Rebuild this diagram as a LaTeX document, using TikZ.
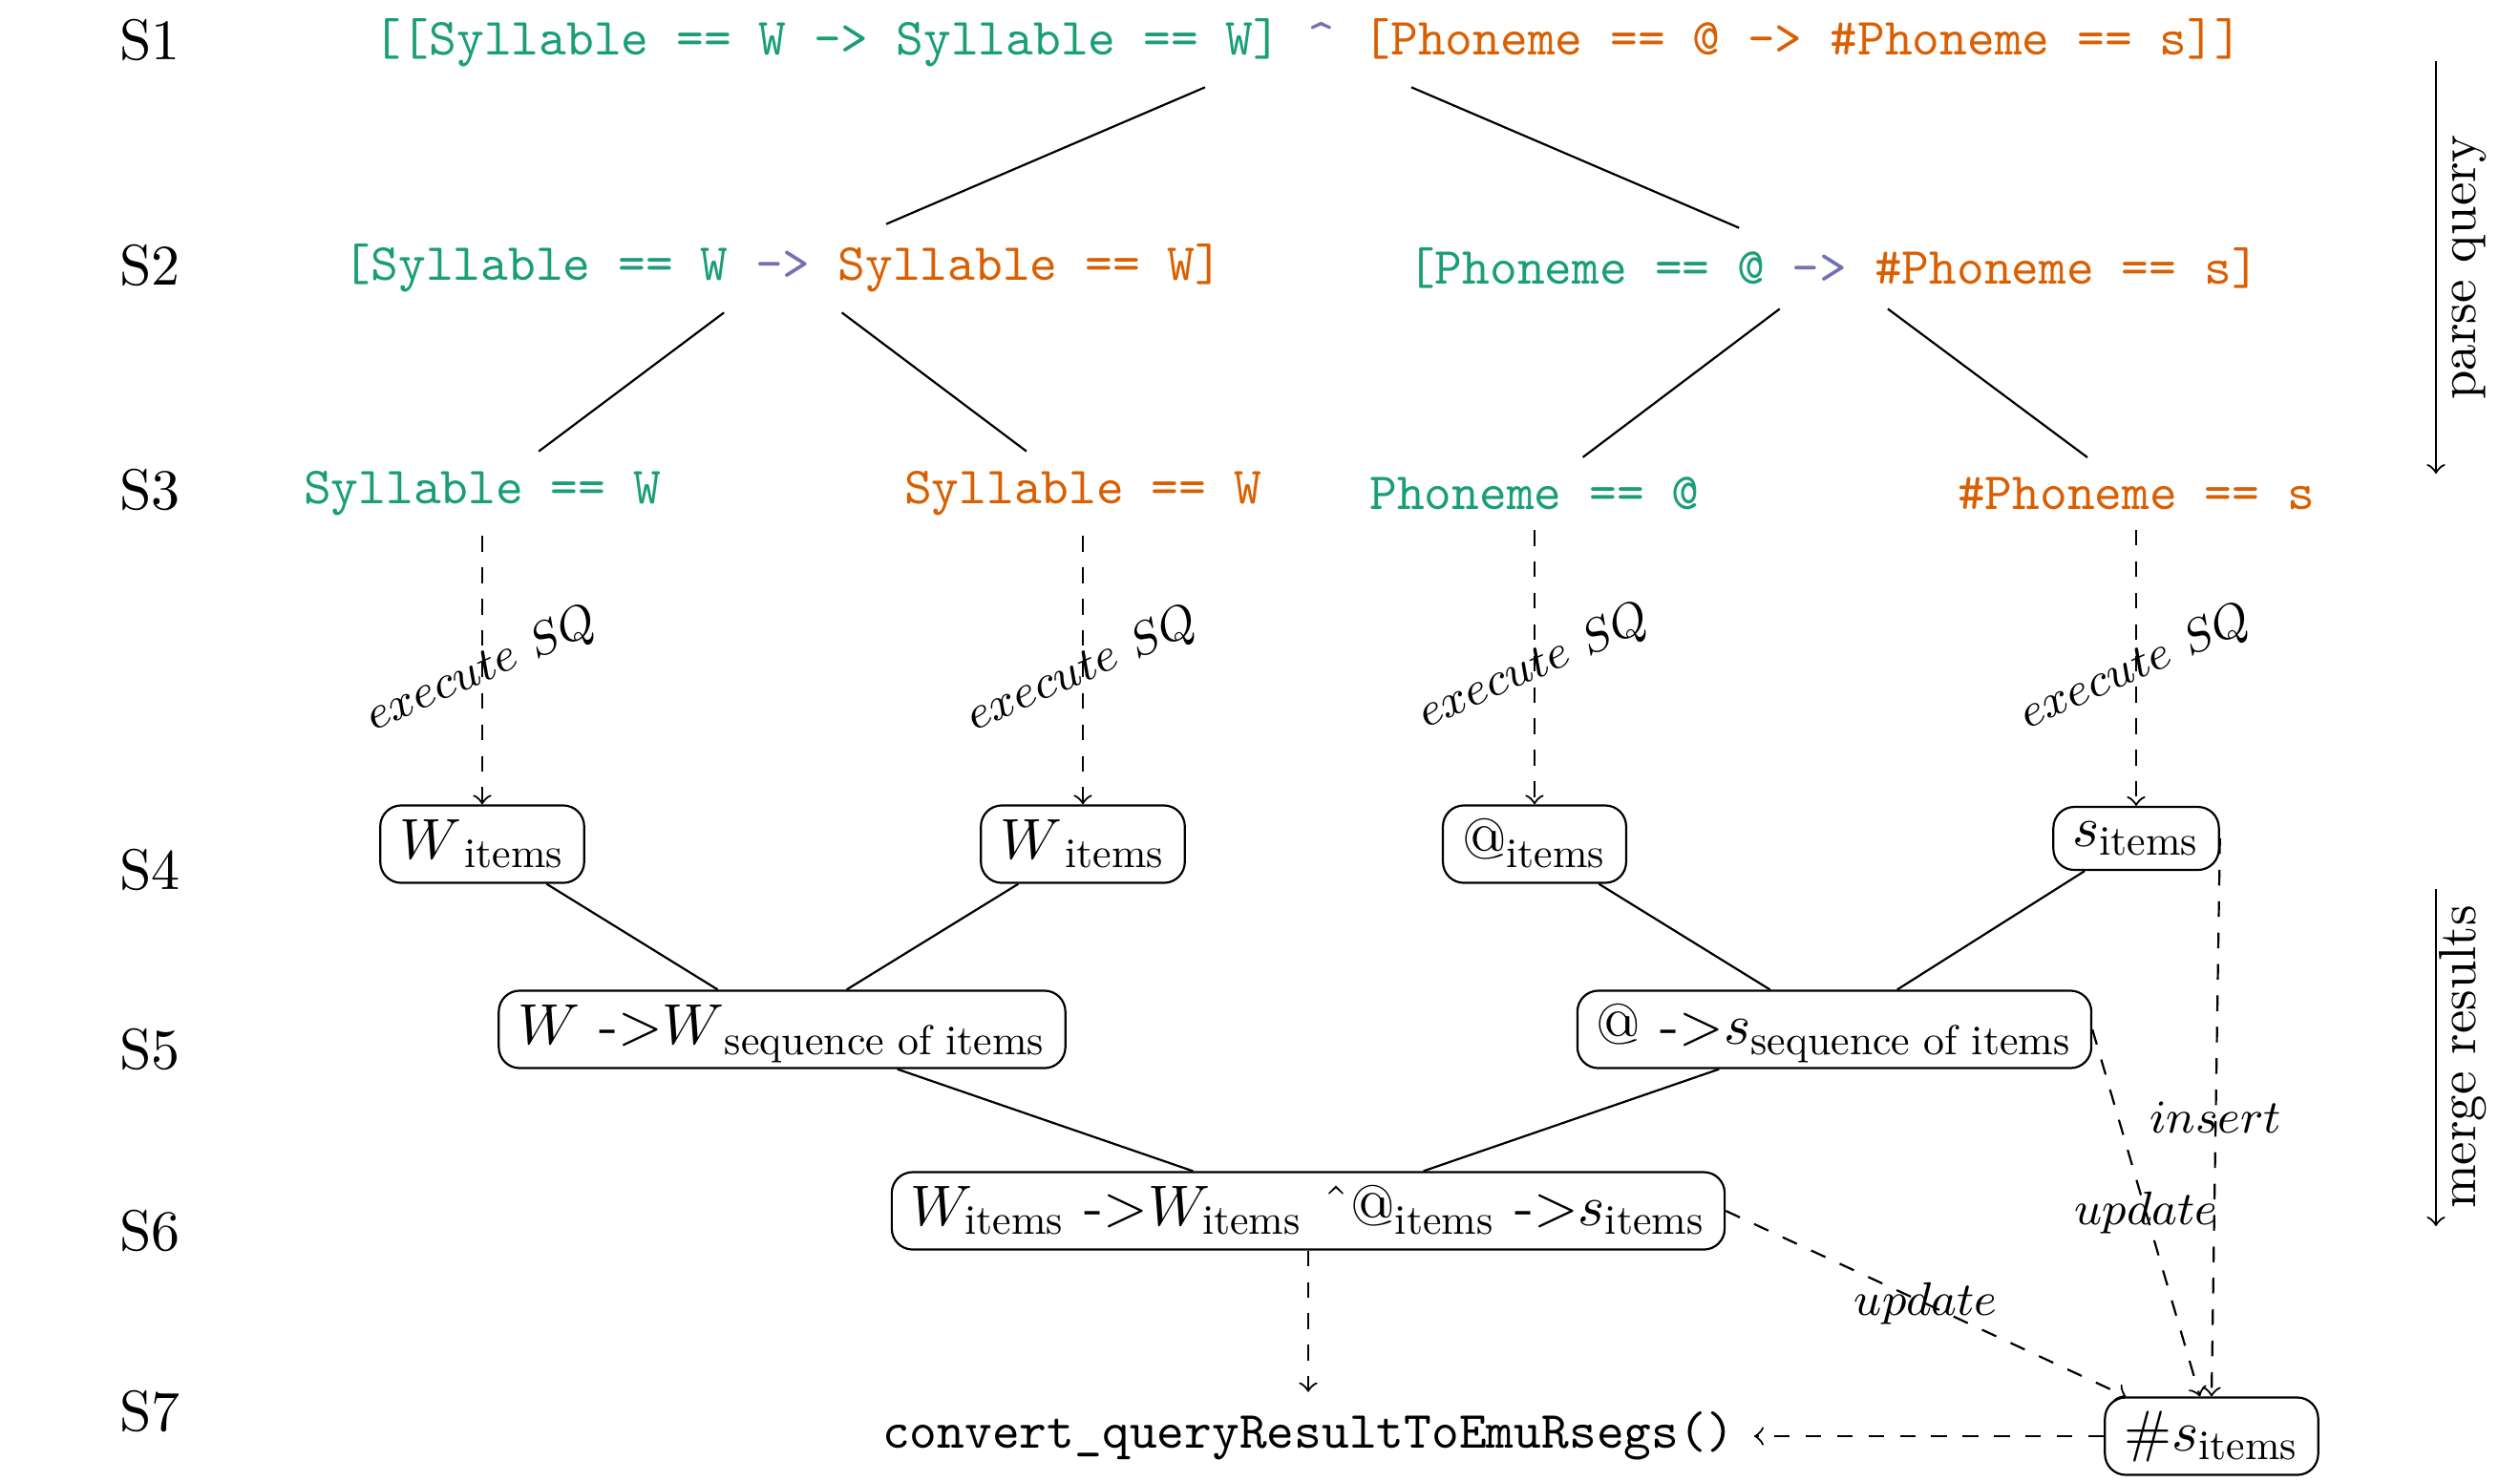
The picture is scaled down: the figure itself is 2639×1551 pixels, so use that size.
\documentclass[11pt,tikz,border=0pt]{standalone}
\usepackage{amsmath}
\usepackage{graphicx}
\definecolor{dkgreen}{HTML}{1B9E77}
\definecolor{dkorange}{HTML}{D95F02}
\definecolor{dkpurple}{HTML}{7570B3}
\newcommand{\subtxt}[1]{\mbox{\scalebox{0.7306}{#1}}}
\newcommand{\smallhat}{{\fontencoding{OT1}\selectfont\^{}}}
\begin{document}
\begin{tikzpicture}[x=0.06415mm, y=-0.06415mm,
  qtext/.style={font=\small\ttfamily},
  itembox/.style={draw, rounded corners=4pt, inner ysep=2.8pt},
  fixh/.style={text height=7.5pt, text depth=1.7pt},
  lvl/.style={font=\normalsize},
  smalllbl/.style={font=\fontsize{9.5}{11}\selectfont},
  sidelbl/.style={font=\small},
  dasharrow/.style={->, dashed},
]
\useasboundingbox (0,0) rectangle (2639,1551);

% level labels
\node[lvl] (lS1) at (157,42) {S1};
\node[lvl] (lS2) at (157,278) {S2};
\node[lvl] (lS3) at (157,513) {S3};
\node[lvl] (lS4) at (157,911) {S4};
\node[lvl] (lS5) at (157,1099) {S5};
\node[lvl] (lS6) at (157,1289) {S6};
\node[lvl] (lS7) at (157,1478) {S7};

% query tree
\node[qtext] (q1) at (1370,45) {\textcolor{dkgreen}{[[Syllable == W -> Syllable == W]} \textcolor{dkpurple}{\textasciicircum} \textcolor{dkorange}{[Phoneme == @ -> \#Phoneme == s]]}};
\node[qtext] (q2l) at (820,281) {\textcolor{dkgreen}{[Syllable == W} \textcolor{dkpurple}{->} \textcolor{dkorange}{Syllable == W]}};
\node[qtext] (q2r) at (1920,281) {\textcolor{dkgreen}{[Phoneme == @} \textcolor{dkpurple}{->} \textcolor{dkorange}{\#Phoneme == s]}};
\node[qtext, text=dkgreen] (q3a) at (505,517) {Syllable == W};
\node[qtext, text=dkorange] (q3b) at (1134,517) {Syllable == W};
\node[qtext, text=dkgreen] (q3c) at (1607,517) {Phoneme == @};
\node[qtext, text=dkorange] (q3d) at (2237,517) {\#Phoneme == s};

% result boxes
\node[itembox, fixh] (w1) at (505,884) {${W}\mkern1mu_{\subtxt{items}}$};
\node[itembox, fixh] (w2) at (1134,884) {${W}\mkern1mu_{\subtxt{items}}$};
\node[itembox, fixh] (a1) at (1607,884) {$@_{\subtxt{items}}$};
\node[itembox] (s1) at (2237,878) {$s_{\subtxt{items}}$};
\node[itembox, fixh] (ww) at (819,1078) {${W}$ -$>${$W$}$_{\subtxt{sequence of items}}$};
\node[itembox, fixh] (as) at (1921,1078) {$@$ -$>$$s_{\subtxt{sequence of items}}$};
\node[itembox, fixh] (all) at (1370,1268) {${W}_{\subtxt{items}}$ -$>$${W}_{\subtxt{items}}$ \smallhat$@_{\subtxt{items}}$ -$>$$s_{\subtxt{items}}$};
\node[itembox, fixh] (hs) at (2316,1504) {$\#s_{\subtxt{items}}$};
\node[font=\small] (conv) at (1370,1504) {\texttt{convert\_queryResultToEmuRsegs()}};

% parse tree edges
\draw (q1) -- (q2l);
\draw (q1) -- (q2r);
\draw (q2l) -- (q3a);
\draw (q2l) -- (q3b);
\draw (q2r) -- (q3c);
\draw (q2r) -- (q3d);

% execute SQ
\draw[dasharrow] (q3a) -- node[smalllbl, rotate=24] {$execute\ SQ$} (w1);
\draw[dasharrow] (q3b) -- node[smalllbl, rotate=24] {$execute\ SQ$} (w2);
\draw[dasharrow] (q3c) -- node[smalllbl, rotate=24] {$execute\ SQ$} (a1);
\draw[dasharrow] (q3d) -- node[smalllbl, rotate=24] {$execute\ SQ$} (s1);

% merge edges
\draw (w1) -- (ww);
\draw (w2) -- (ww);
\draw (a1) -- (as);
\draw (s1) -- (as);
\draw (ww) -- (all);
\draw (as) -- (all);

% result flow
\draw[dasharrow] (all) -- (conv);
\draw[dasharrow] (hs) -- (conv);
\draw[dasharrow] (all.east) -- node[smalllbl] {$update$} (hs);
\draw[dasharrow] (as.east) -- node[smalllbl] {$update$} (hs);
\draw[dasharrow] (s1.east) -- node[smalllbl] {$insert$} (hs.north);

% side arrows
\coordinate (pq1) at (2551,64);
\coordinate (pq2) at (2551,496);
\coordinate (mr1) at (2551,931);
\coordinate (mr2) at (2551,1284);
\draw[->] (pq1) -- (pq2);
\draw[->] (mr1) -- (mr2);
\node[sidelbl, rotate=90, anchor=base] (pqlab) at (2592,280) {parse query};
\node[sidelbl, rotate=90, anchor=base] (mrlab) at (2592,1107) {merge results};
\end{tikzpicture}
\end{document}
